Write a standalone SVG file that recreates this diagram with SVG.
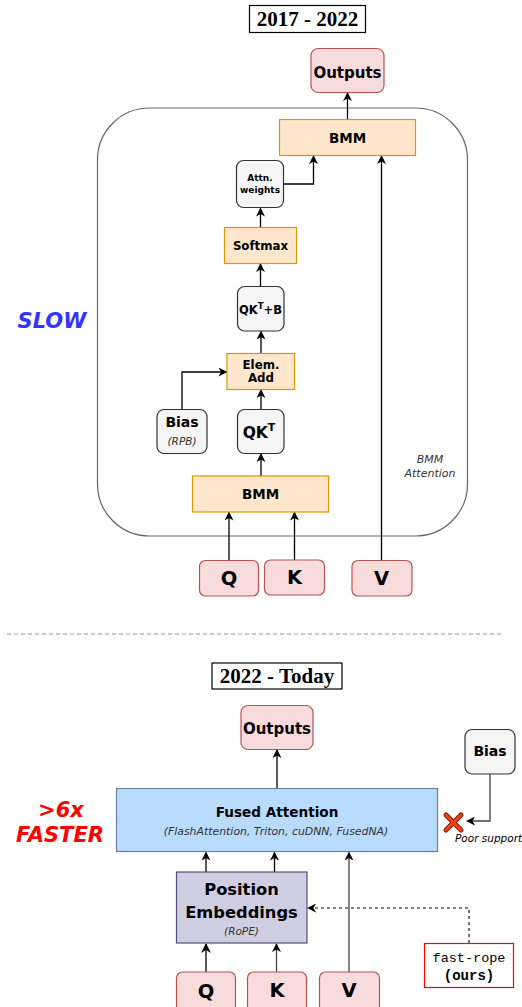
<svg xmlns="http://www.w3.org/2000/svg" width="522" height="1007" viewBox="0 0 522 1007">
<defs>
<style>
.t{font-family:"DejaVu Sans",sans-serif;font-weight:bold;fill:#000;text-anchor:middle}
.i{font-family:"DejaVu Sans",sans-serif;font-style:italic;fill:#333;text-anchor:middle}
.title{font-family:"Liberation Serif",serif;font-weight:bold;font-size:21px;text-anchor:middle;fill:#000}
.org{fill:#ffe6cc;stroke:#d79b00;stroke-width:1.2}
.pink{fill:#f8dcdc;stroke:#b85450;stroke-width:1.2}
.gray{fill:#f5f5f5;stroke:#333;stroke-width:1.2}
.ln{fill:none;stroke:#000;stroke-width:1.3}
.lg{fill:none;stroke:#444;stroke-width:1.3}
</style>
<marker id="ar" viewBox="0 0 10 10" refX="9" refY="5" markerWidth="9" markerHeight="9" markerUnits="userSpaceOnUse" orient="auto">
<path d="M0,0 L10,5 L0,10 L3,5 Z" fill="#000"/>
</marker>
<marker id="arb" viewBox="0 0 10 10" refX="9" refY="5" markerWidth="10" markerHeight="10" markerUnits="userSpaceOnUse" orient="auto">
<path d="M0,0 L10,5 L0,10 L3,5 Z" fill="#000"/>
</marker>
</defs>
<rect width="522" height="1007" fill="#fff"/>

<!-- Top section -->
<g id="title1"><rect x="249.5" y="5.5" width="116" height="27" fill="#fff" stroke="#000" stroke-width="1.2"/><text class="title" x="307.5" y="26">2017 - 2022</text></g>
<g id="container"><rect x="97.5" y="108" width="370" height="428" rx="52" fill="none" stroke="#666" stroke-width="1.2"/><text class="i" font-size="11" x="430" y="463">BMM</text><text class="i" font-size="11" x="430" y="477">Attention</text></g>
<g id="slow"><text x="52" y="328" font-family="DejaVu Sans,sans-serif" font-weight="bold" font-style="italic" font-size="21" fill="#3333ff" text-anchor="middle">SLOW</text></g>

<g id="connectors1">
<line class="ln" x1="347.5" y1="119" x2="347.5" y2="93" marker-end="url(#ar)"/>
<polyline class="ln" points="284,184 313.5,184 313.5,156" marker-end="url(#ar)"/>
<line class="ln" x1="381.5" y1="560" x2="381.5" y2="156" marker-end="url(#ar)"/>
<line class="ln" x1="260.5" y1="227" x2="260.5" y2="208.5" marker-end="url(#ar)"/>
<line class="ln" x1="260.5" y1="286" x2="260.5" y2="264" marker-end="url(#ar)"/>
<line class="ln" x1="261" y1="353" x2="261" y2="331.5" marker-end="url(#ar)"/>
<line class="ln" x1="261" y1="409" x2="261" y2="390" marker-end="url(#ar)"/>
<polyline class="ln" points="182,409 182,372 226.5,372" marker-end="url(#ar)"/>
<line class="ln" x1="261" y1="476" x2="261" y2="454" marker-end="url(#ar)"/>
<line class="ln" x1="229" y1="560" x2="229" y2="512.5" marker-end="url(#ar)"/>
<line class="ln" x1="294.5" y1="560" x2="294.5" y2="512.5" marker-end="url(#ar)"/>
</g>

<g id="outputs1"><rect class="pink" x="311" y="48.5" width="73" height="44" rx="7"/><text class="t" font-size="15" x="347.5" y="77.5">Outputs</text></g>
<g id="bmm1"><rect class="org" x="279.5" y="119.5" width="136" height="36"/><text class="t" font-size="13.5" x="347.5" y="142.5">BMM</text></g>
<g id="attnw"><rect class="gray" x="236.5" y="160.5" width="47" height="47" rx="7"/><text class="t" font-size="9" x="260" y="181">Attn.</text><text class="t" font-size="9" x="260" y="193">weights</text></g>
<g id="softmax"><rect class="org" x="224.5" y="227.5" width="72" height="36"/><text class="t" font-size="11.8" x="260.5" y="250">Softmax</text></g>
<g id="qktb"><rect class="gray" x="237.5" y="286.5" width="46.5" height="44.5" rx="7"/><text class="t" font-size="11.5" x="260.5" y="314">QK<tspan font-size="8.5" dy="-5">T</tspan><tspan dy="5">+B</tspan></text></g>
<g id="elemadd"><rect class="org" x="227" y="353.5" width="67.5" height="36"/><text class="t" font-size="11.8" x="261" y="369">Elem.</text><text class="t" font-size="11.8" x="261" y="382">Add</text></g>
<g id="bias1"><rect class="gray" x="157" y="409.5" width="50" height="44" rx="7"/><text class="t" font-size="14" x="182" y="427">Bias</text><text class="i" font-size="10.5" x="182" y="445">(RPB)</text></g>
<g id="qkt"><rect class="gray" x="237.5" y="409.5" width="46.5" height="44" rx="7"/><text class="t" font-size="15.5" x="259" y="438">QK<tspan font-size="11" dy="-7">T</tspan></text></g>
<g id="bmm2"><rect class="org" x="192.5" y="476" width="136" height="36"/><text class="t" font-size="13.5" x="260.5" y="499">BMM</text></g>
<g id="q1"><rect class="pink" x="199.5" y="560.5" width="59" height="35.5" rx="6"/><text class="t" font-size="19.5" x="229" y="585">Q</text></g>
<g id="k1"><rect class="pink" x="264.5" y="560" width="60" height="35" rx="6"/><text class="t" font-size="19.5" x="294.5" y="584">K</text></g>
<g id="v1"><rect class="pink" x="352" y="560.5" width="60" height="35.5" rx="6"/><text class="t" font-size="19.5" x="381.5" y="585">V</text></g>

<line x1="7" y1="634" x2="502" y2="634" stroke="#999" stroke-width="1" stroke-dasharray="4,3"/>

<!-- Bottom section -->
<g id="title2"><rect x="212" y="663" width="130" height="26" fill="#fff" stroke="#000" stroke-width="1.2"/><text class="title" x="277" y="683">2022 - Today</text></g>
<g id="faster"><text x="61" y="817" font-family="DejaVu Sans,sans-serif" font-weight="bold" font-style="italic" font-size="21" fill="#ff0000" text-anchor="middle">&gt;6x</text><text x="60" y="842" font-family="DejaVu Sans,sans-serif" font-weight="bold" font-style="italic" font-size="21" fill="#ff0000" text-anchor="middle">FASTER</text></g>

<g id="connectors2">
<line class="ln" x1="277" y1="788" x2="277" y2="750" marker-end="url(#ar)" stroke-width="1.6"/>
<polyline class="lg" points="490,774 490,821 467,821" marker-end="url(#ar)"/>
<line class="ln" x1="206" y1="872" x2="206" y2="852.5" marker-end="url(#ar)"/>
<line class="ln" x1="274.5" y1="872" x2="274.5" y2="852.5" marker-end="url(#ar)"/>
<line class="lg" x1="349" y1="972" x2="349" y2="852.5" marker-end="url(#ar)"/>
<line class="ln" x1="206" y1="972" x2="206" y2="944" stroke-width="2" marker-end="url(#arb)"/>
<line class="lg" x1="276.5" y1="972" x2="276.5" y2="944" marker-end="url(#ar)"/>
<polyline points="469,943 469,908 308,908" fill="none" stroke="#000" stroke-width="1.1" stroke-dasharray="3,3" marker-end="url(#ar)"/>
</g>

<g id="outputs2"><rect class="pink" x="241" y="705.5" width="72" height="44" rx="7"/><text class="t" font-size="15" x="277" y="734">Outputs</text></g>
<g id="bias2"><rect class="gray" x="465" y="729.5" width="50" height="44.5" rx="7"/><text class="t" font-size="14" x="490" y="756">Bias</text></g>
<g id="fused"><rect x="116.5" y="788.5" width="321" height="63" fill="#b9dbfd" stroke="#6f7fa8" stroke-width="1.2"/><text class="t" font-size="13.6" x="277" y="817">Fused Attention</text><text class="i" font-size="10.9" x="276" y="835">(FlashAttention, Triton, cuDNN, FusedNA)</text></g>
<g id="xmark"><path d="M446,815 L461,830 M461,815 L446,830" stroke="#8a1c00" stroke-width="5" stroke-linecap="round"/><path d="M446,815 L461,830 M461,815 L446,830" stroke="#f0401a" stroke-width="3" stroke-linecap="round"/><text x="455" y="842" font-family="DejaVu Sans,sans-serif" font-style="italic" font-size="10.5" fill="#000">Poor support</text></g>
<g id="posemb"><rect x="176.5" y="872" width="130.5" height="71" fill="#d0cee2" stroke="#56517e" stroke-width="1.2"/><text class="t" font-size="16.3" x="241.5" y="895">Position</text><text class="t" font-size="16.3" x="241.5" y="918">Embeddings</text><text class="i" font-size="10.5" x="241.5" y="935">(RoPE)</text></g>
<g id="fastrope"><rect x="424.5" y="943.5" width="89" height="44" fill="#fff" stroke="#ff0000" stroke-width="1.2"/><text x="469" y="962" font-family="Liberation Mono,monospace" font-size="13.5" text-anchor="middle" fill="#000">fast-rope</text><text x="469" y="980" font-family="Liberation Mono,monospace" font-weight="bold" font-size="14" text-anchor="middle" fill="#000">(ours)</text></g>
<g id="q2"><rect class="pink" x="176.5" y="972" width="59" height="40" rx="6"/><text class="t" font-size="19.5" x="206" y="998">Q</text></g>
<g id="k2"><rect class="pink" x="247.5" y="972" width="59" height="40" rx="6"/><text class="t" font-size="19.5" x="277" y="997">K</text></g>
<g id="v2"><rect class="pink" x="319.5" y="972" width="60" height="40" rx="6"/><text class="t" font-size="19.5" x="349" y="997">V</text></g>
</svg>
